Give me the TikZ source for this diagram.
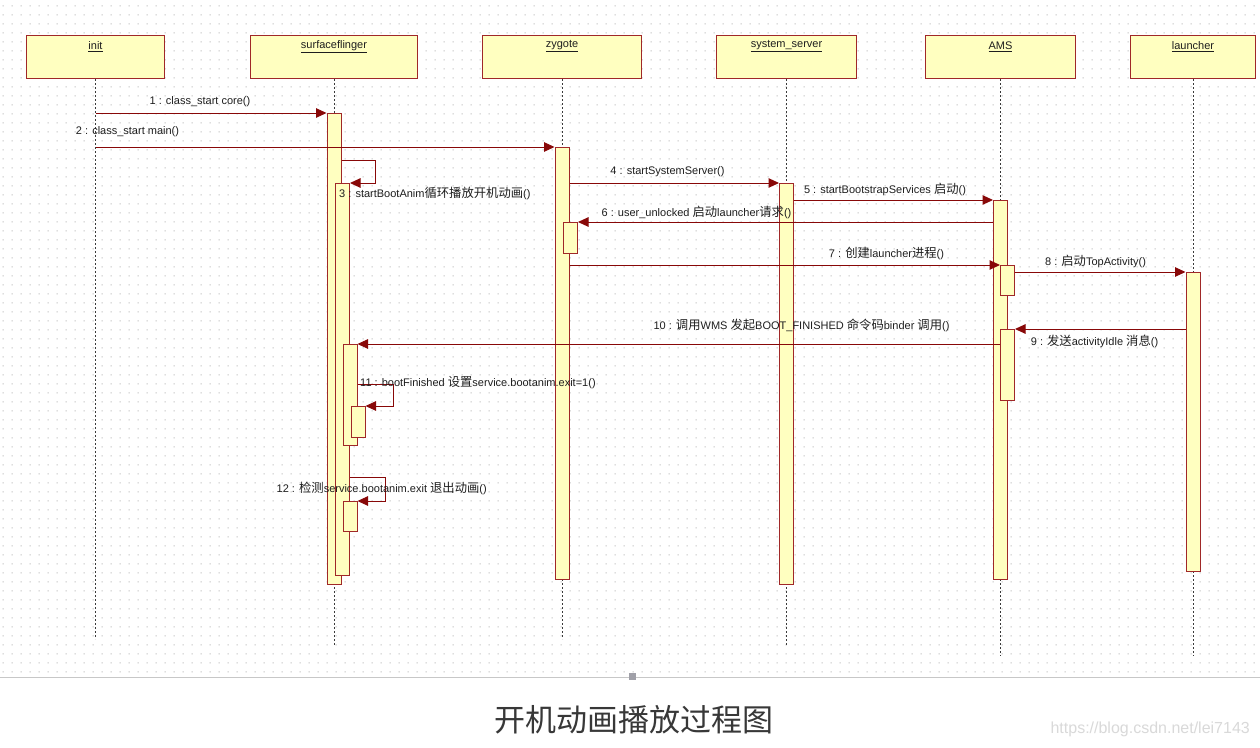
\documentclass[tikz,border=0pt]{standalone}
\usepackage{fontspec}
\setmainfont{Liberation Sans}
\newfontfamily\cjk[Scale=1.12]{Noto Sans CJK SC}
\newfontfamily\capfont{Noto Sans CJK SC}
\usetikzlibrary{arrows.meta,patterns}

% light dotted drawing-sheet grid, 9pt spacing
\pgfdeclarepatternformonly{griddots}{\pgfqpoint{0pt}{0pt}}{\pgfqpoint{9pt}{9pt}}{\pgfqpoint{9pt}{9pt}}{%
  \pgfpathrectangle{\pgfqpoint{4pt}{4pt}}{\pgfqpoint{1.1pt}{1.1pt}}\pgfusepath{fill}}

\definecolor{boxfill}{HTML}{FFFFC0}
\definecolor{boxline}{HTML}{A02828}
\definecolor{msgred}{HTML}{880808}
\definecolor{lifegray}{HTML}{3A3A3A}
\definecolor{txt}{HTML}{1E1E1E}
\definecolor{handlegray}{HTML}{A0A0A8}

\tikzset{
  hdr/.style={draw=boxline, fill=boxfill, line width=1pt, minimum height=43pt,
              inner sep=0pt, anchor=north west},
  act/.style={draw=boxline, fill=boxfill, line width=1pt, minimum width=14pt,
              inner sep=0pt, anchor=north west},
  life/.style={draw=lifegray, line width=0.8pt, dash pattern=on 2pt off 2pt},
  msg/.style={draw=msgred, line width=1pt, -{Triangle[length=10.5pt,width=9.5pt]}},
  lbl/.style={font=\fontsize{11}{13}\selectfont, text=txt, inner sep=0pt},
}

\begin{document}
\begin{tikzpicture}[x=1pt,y=-1pt]
\useasboundingbox (0,0) rectangle (1260,747);
\fill[white] (0,0) rectangle (1260,747);
\fill[pattern=griddots, pattern color=black!30] (0,0) rectangle (1260,677);

% lifeline heads
\node[hdr, minimum width=138pt] (init) at (26,35) {};
\node[hdr, minimum width=167pt] (sf)   at (250,35) {};
\node[hdr, minimum width=159pt] (zy)   at (482,35) {};
\node[hdr, minimum width=140pt] (ss)   at (716,35) {};
\node[hdr, minimum width=150pt] (ams)  at (925,35) {};
\node[hdr, minimum width=125pt] (ln)   at (1130,35) {};

\foreach \n/\t in {init/init, sf/surfaceflinger, zy/zygote, ss/system\_server, ams/AMS, ln/launcher}
  \node[lbl] (\n-name) at ([yshift=-11.5pt]\n.north) {\underline{\t}};

% lifelines
\path (init.south) ++(0,560) coordinate (initEnd);
\path (sf.south)   ++(0,566) coordinate (sfEnd);
\path (zy.south)   ++(0,560) coordinate (zyEnd);
\path (ss.south)   ++(0,566) coordinate (ssEnd);
\path (ams.south)  ++(0,577) coordinate (amsEnd);
\path (ln.south)   ++(0,577) coordinate (lnEnd);
\foreach \n in {init,sf,zy,ss,ams,ln}
  \draw[life] (\n.south) -- (\n End);

% activations
\node[act, minimum height=471pt] (sfA1) at (326.5,113) {};
\node[act, minimum height=392pt] (sfA2) at (335,183) {};
\node[act, minimum height=101pt] (sfA3) at (342.5,344) {};
\node[act, minimum height=31pt]  (sfA4) at (350.5,406) {};
\node[act, minimum height=30pt]  (sfA5) at (342.5,501) {};
\node[act, minimum height=432pt] (zyA1) at (554.5,147) {};
\node[act, minimum height=31pt]  (zyA2) at (563,222) {};
\node[act, minimum height=401pt] (ssA1) at (779,183) {};
\node[act, minimum height=379pt] (amsA1) at (993,200) {};
\node[act, minimum height=30pt]  (amsA2) at (1000,265) {};
\node[act, minimum height=71pt]  (amsA3) at (1000,329) {};
\node[act, minimum height=299pt] (lnA1) at (1185.5,272) {};

% messages
\draw[msg] (sfA1.north west -| init.south) -- (sfA1.north west);
\draw[msg] (zyA1.north west -| init.south) -- (zyA1.north west);
\draw[msg] ([yshift=-47pt]sfA1.north east) -- ++(34,0) |- (sfA2.north east);
\draw[msg] (ssA1.north west -| zyA1.east) -- (ssA1.north west);
\draw[msg] (amsA1.north west -| ssA1.east) -- (amsA1.north west);
\draw[msg] (zyA2.north east -| amsA1.west) -- (zyA2.north east);
\draw[msg] (amsA2.north west -| zyA1.east) -- (amsA2.north west);
\draw[msg] (lnA1.north west -| amsA2.east) -- (lnA1.north west);
\draw[msg] (amsA3.north east -| lnA1.west) -- (amsA3.north east);
\draw[msg] ([yshift=-15pt]amsA3.north west) -- (sfA3.north east |- 0,344);
\draw[msg] ([yshift=-40pt]sfA3.north east) -- ++(35.5,0) |- (sfA4.north east);
\draw[msg] ([yshift=-294.7pt]sfA2.north east) -- ++(35.5,0) |- (sfA5.north east);

% message labels
\node[lbl] at (200,102) {1 : class\_start core()};
\node[lbl] at (127.5,132) {2 : class\_start main()};
\node[lbl, anchor=west] at (339,193) {3 : startBootAnim{\cjk 循环播放开机动画}()};
\node[lbl] at (667.5,172) {4 : startSystemServer()};
\node[lbl] at (885,189) {5 : startBootstrapServices {\cjk 启动}()};
\node[lbl] at (696.5,212) {6 : user\_unlocked {\cjk 启动}launcher{\cjk 请求}()};
\node[lbl] at (886.5,253) {7 : {\cjk 创建}launcher{\cjk 进程}()};
\node[lbl] at (1095.5,261.5) {8 : {\cjk 启动}TopActivity()};
\node[lbl] at (1094.5,341) {9 : {\cjk 发送}activityIdle {\cjk 消息}()};
\node[lbl] at (801.5,325) {10 : {\cjk 调用}WMS {\cjk 发起}BOOT\_FINISHED {\cjk 命令码}binder {\cjk 调用}()};
\node[lbl, anchor=west] at (360,382.5) {11 : bootFinished {\cjk 设置}service.bootanim.exit=1()};
\node[lbl, anchor=west] at (276.5,488.5) {12 : {\cjk 检测}service.bootanim.exit {\cjk 退出动画}()};

% sheet edge, resize handle, caption
\draw[black!22, line width=0.9pt] (0,677) -- (1260,677);
\node[fill=handlegray, minimum size=7pt, inner sep=0pt] (handle) at (632,676) {};
\node[font=\capfont\fontsize{31}{35}\selectfont, text=black!78, inner sep=0pt] (cap) at (633.5,720) {开机动画播放过程图};
\node[font=\fontsize{16}{18}\selectfont, text=black!15, inner sep=0pt, anchor=east] (wm) at (1250,729) {https://blog.csdn.net/lei7143};
\end{tikzpicture}
\end{document}
